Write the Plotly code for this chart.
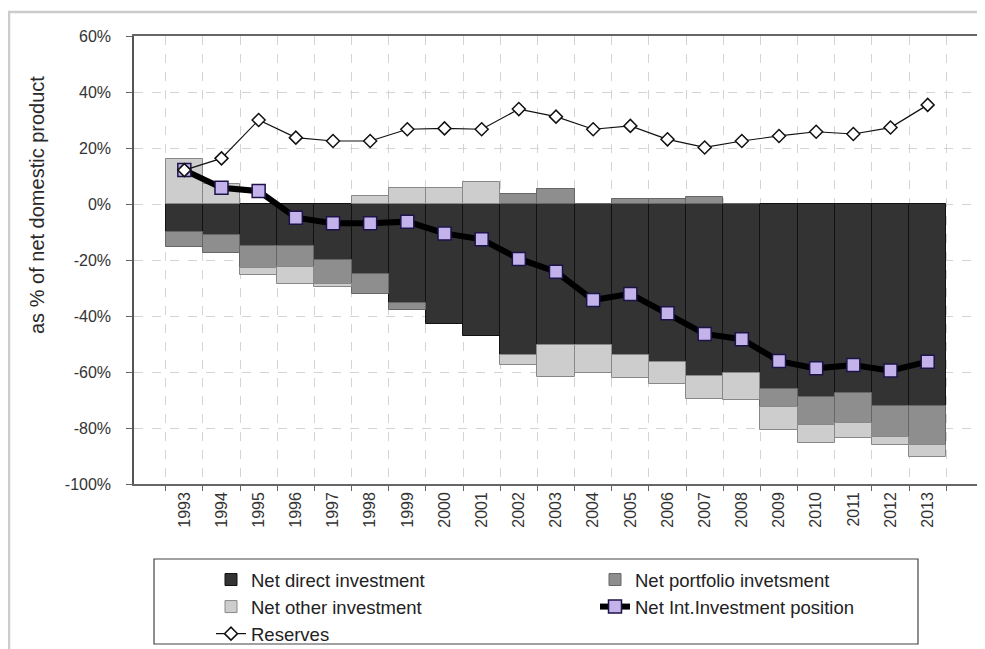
import plotly.graph_objects as go

years = ["1993", "1994", "1995", "1996", "1997", "1998", "1999", "2000", "2001", "2002", "2003",
         "2004", "2005", "2006", "2007", "2008", "2009", "2010", "2011", "2012", "2013"]

net_direct = [-10, -11, -15, -15, -20, -25, -35.5, -43, -47, -54, -50.5,
              -50.5, -54, -56.5, -61.5, -60.5, -66, -69, -67.5, -72, -72]
net_portfolio = [-5.5, -6.5, -8, -7.5, -8.5, -7, -2.5, 0, 0, 3.5, 5.5,
                 0, 1.7, 1.7, 2.4, 0, -6.4, -9.9, -10.8, -11.1, -14]
net_other = [16, 7, -2.2, -6, -1, 3, 5.6, 5.6, 8, -3.5, -11.2,
             -10, -8, -7.7, -8.3, -9.5, -8.3, -6.6, -5.4, -2.9, -4.2]
net_iip = [12.1, 5.8, 4.6, -4.9, -6.9, -6.9, -6.3, -10.5, -12.6, -19.6, -24.2,
           -34.3, -32.1, -39, -46.4, -48.3, -56.1, -58.7, -57.5, -59.5, -56.3]
reserves = [12.1, 16.3, 30, 23.7, 22.5, 22.5, 26.7, 27, 26.7, 33.9, 31.2,
            26.7, 27.9, 23.1, 20.2, 22.5, 24.3, 25.8, 25, 27.3, 35.4]

ytick_vals = [60, 40, 20, 0, -20, -40, -60, -80, -100]
ytick_text = ["60%", "40%", "20%", "0%", "-20%", "-40%", "-60%", "-80%", "-100%"]

FONT = "Liberation Sans, Arial, sans-serif"

fig = go.Figure()
fig.add_trace(go.Bar(x=years, y=net_direct, name="Net direct investment",
                     marker=dict(color="#333333", line=dict(color="#111111", width=1))))
fig.add_trace(go.Bar(x=years, y=net_portfolio, name="Net portfolio invetsment",
                     marker=dict(color="#8e8e8e", line=dict(color="#666666", width=1))))
fig.add_trace(go.Bar(x=years, y=net_other, name="Net other investment",
                     marker=dict(color="#cdcdcd", line=dict(color="#888888", width=1))))
fig.add_trace(go.Scatter(x=years, y=net_iip, name="Net Int.Investment position", mode="lines+markers",
                         line=dict(color="#000000", width=6),
                         marker=dict(symbol="square", size=13, color="#c3b3ea",
                                     line=dict(color="#1c1448", width=1.5))))
fig.add_trace(go.Scatter(x=years, y=reserves, name="Reserves", mode="lines+markers",
                         line=dict(color="#111111", width=1.2),
                         marker=dict(symbol="diamond", size=10, color="#ffffff",
                                     line=dict(color="#111111", width=1.5))))

# page body has an 8px margin; work in screen pixels and convert
OFF = 8
W, H = 977, 641
L, T = 134 - OFF, 36 - OFF
R = W - (978 - OFF)
B = H - (484 - OFF)
pw = W - L - R
ph = H - T - B

def px_x(x):
    return (x - OFF - L) / pw

def px_y(y):
    return (H - B - (y - OFF)) / ph

fig.update_layout(
    width=W, height=H,
    margin=dict(l=L, r=R, t=T, b=B, autoexpand=False),
    paper_bgcolor="#ffffff", plot_bgcolor="#ffffff",
    barmode="relative", bargap=0,
    font=dict(family=FONT, color="#333333"),
    showlegend=True,
    legend=dict(orientation="h", x=px_x(211), xanchor="left", y=px_y(561), yanchor="top",
                entrywidth=339, entrywidthmode="pixels", traceorder="normal",
                font=dict(size=18.5, family=FONT, color="#222222"),
                bgcolor="rgba(0,0,0,0)", borderwidth=0),
    xaxis=dict(type="category", tickson="boundaries", ticks="outside", ticklen=5, tickcolor="#666666",
               tickangle=-90, tickfont=dict(size=16, family=FONT, color="#333333"),
               showgrid=True, gridcolor="#d4d4d4", griddash="dash", gridwidth=1,
               showline=True, linecolor="#666666", linewidth=1.5, mirror=True),
    yaxis=dict(range=[-100, 60], tickvals=ytick_vals, ticktext=ytick_text, ticks="outside",
               ticklen=6, tickcolor="#666666", tickfont=dict(size=16, family=FONT, color="#333333"),
               showgrid=True, gridcolor="#d4d4d4", griddash="dash", gridwidth=1, zeroline=False,
               showline=True, linecolor="#555555", linewidth=1.5, mirror=True,
               ticklabelstandoff=12),
    annotations=[dict(text="as % of net domestic product", xref="paper", yref="paper",
                      x=px_x(37), y=px_y(205), xanchor="center", yanchor="middle",
                      textangle=-90, showarrow=False,
                      font=dict(size=20, family=FONT, color="#2a2a2a"))],
    shapes=[
        dict(type="rect", xref="paper", yref="paper", x0=px_x(154), x1=px_x(918),
             y0=px_y(644), y1=px_y(559), line=dict(color="#444444", width=1.2),
             fillcolor="rgba(0,0,0,0)", layer="above"),
        dict(type="rect", xref="paper", yref="paper", x0=px_x(9), x1=px_x(1000),
             y0=px_y(700), y1=px_y(12), line=dict(color="#cccccc", width=2.5),
             fillcolor="rgba(0,0,0,0)", layer="above"),
    ],
)

fig.write_html("out.html")
